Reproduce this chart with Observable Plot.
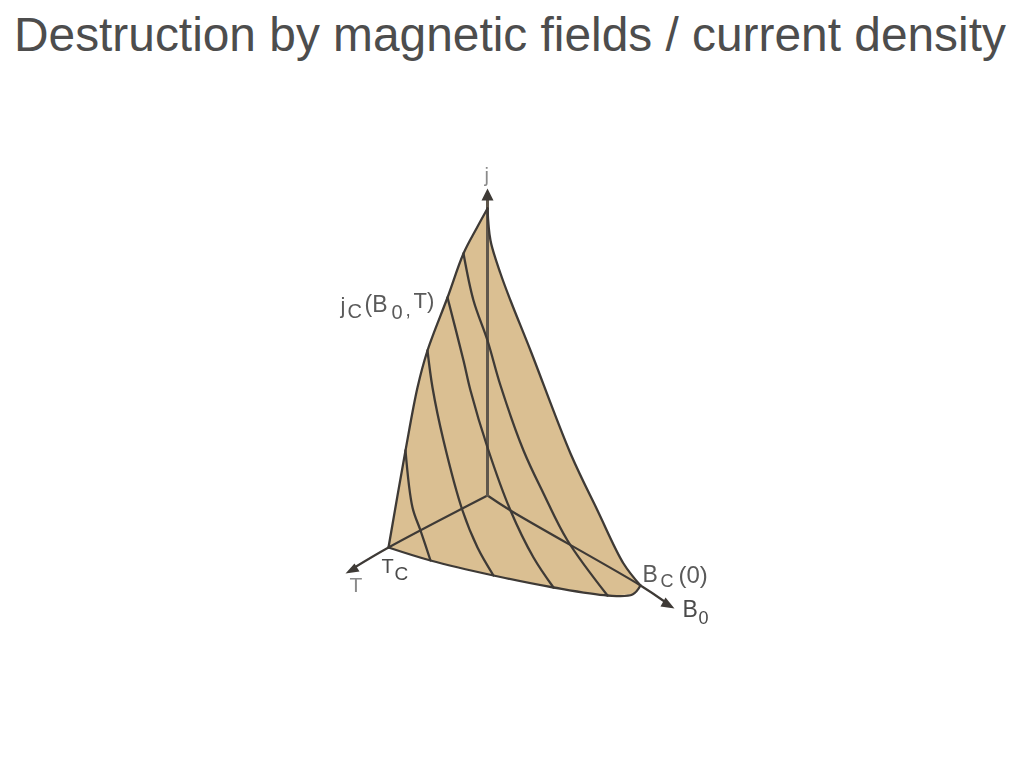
<!DOCTYPE html>
<html>
<head>
<meta charset="utf-8">
<script src="https://cdn.jsdelivr.net/npm/d3@7"></script>
<script src="https://cdn.jsdelivr.net/npm/@observablehq/plot@0.6"></script>
<style>
html,body{margin:0;padding:0;background:#fff;overflow:hidden}
#title{height:70px;font:47.85px/70px "Liberation Sans",Arial,sans-serif;color:#4d4d4d;white-space:nowrap;padding-left:14px}
#chart svg{display:block;filter:blur(0.55px)}
</style>
</head>
<body>
<div id="title">Destruction by magnetic fields / current density</div>
<div id="chart"></div>
<script>
const leftEdge = [[487,208],[476,228],[463,253],[447,297],[427,350],[417,387],[405,450],[388,547]];
const bottomEdge = [[388,547],[430,560],[493,575],[553,587],[607,595],[632,594],[640,585]];
const rightEdge = [[640,585],[623,563],[597,510],[570,453],[530,350],[510,300],[500,273],[490,240],[487,208]];
const curveA = [[463,253],[473,300],[487,340],[500,385],[523,450],[543,493],[567,540],[607,595]];
const curveB = [[447,297],[463,360],[470,390],[487,447],[510,510],[533,557],[553,587]];
const curveC = [[427,350],[432,387],[443,440],[462,510],[477,547],[493,575]];
const curveD = [[405,450],[412,507],[420,530],[430,560]];
const axisJ = [[487,495],[487,196]];
const axisT = [[487,495],[388,547],[354,567]];
const axisB = [[487,495],[510,510],[640,585],[664,601]];
const headJ = [[487,188],[481,200],[493,200]];
const headT = [[345,573],[359,571],[354,563]];
const headB = [[674,608],[665,597],[660,606]];
const labels = [
  ["j",484,175,20,"#8a8a8a"],
  ["T",349,585,21,"#8a8a8a"],
  ["j",340,305,22,"#5a5a5a"],
  ["C",347,311,20,"#5a5a5a"],
  ["(B",364,304,23,"#5a5a5a"],
  ["0",391,312,20,"#5a5a5a"],
  [",",405,309,19,"#5a5a5a"],
  ["T)",413,300,22,"#5a5a5a"],
  ["T",381,566,20,"#4a4a4a"],
  ["C",394,573,19,"#4a4a4a"],
  ["B",642,574,23,"#5a5a5a"],
  ["C",660,581,18,"#5a5a5a"],
  ["(0)",678,575,24,"#5a5a5a"],
  ["B",682,609,23,"#4a4a4a"],
  ["0",698,618,18,"#4a4a4a"]
];
const outline = [...leftEdge, ...bottomEdge.slice(1), ...rightEdge.slice(1)];
const pts = a => a.map(([x,y]) => ({x,y}));
const ink = "#3e3a36";
const edge = (a,w=2.3,c=ink) => Plot.line(pts(a),{x:"x",y:"y",stroke:c,strokeWidth:w,curve:"catmull-rom"});
const head = a => Plot.line(pts(a),{x:"x",y:"y",fill:ink,stroke:"none",curve:"linear"});
const plot = Plot.plot({
  width:1024,height:698,margin:0,
  x:{domain:[0,1024],range:[0,1024],axis:null},
  y:{domain:[70,768],range:[0,698],axis:null},
  marks:[
    Plot.line(pts(outline),{x:"x",y:"y",fill:"#dabf92",stroke:"none",curve:"linear"}),
    edge(axisT,2.2), edge(axisB,2.2),
    edge(axisJ,3,"#5f574c"),
    edge(curveA), edge(curveB), edge(curveC), edge(curveD),
    edge(leftEdge), edge(bottomEdge), edge(rightEdge),
    head(headJ), head(headT), head(headB),
    ...labels.map(l=>Plot.text([l],{x:d=>d[1],y:d=>d[2],text:d=>d[0],textAnchor:"start",fontSize:l[3],fill:l[4],fontFamily:"Liberation Sans"}))
  ]
});
document.getElementById("chart").appendChild(plot);
</script>
</body>
</html>
